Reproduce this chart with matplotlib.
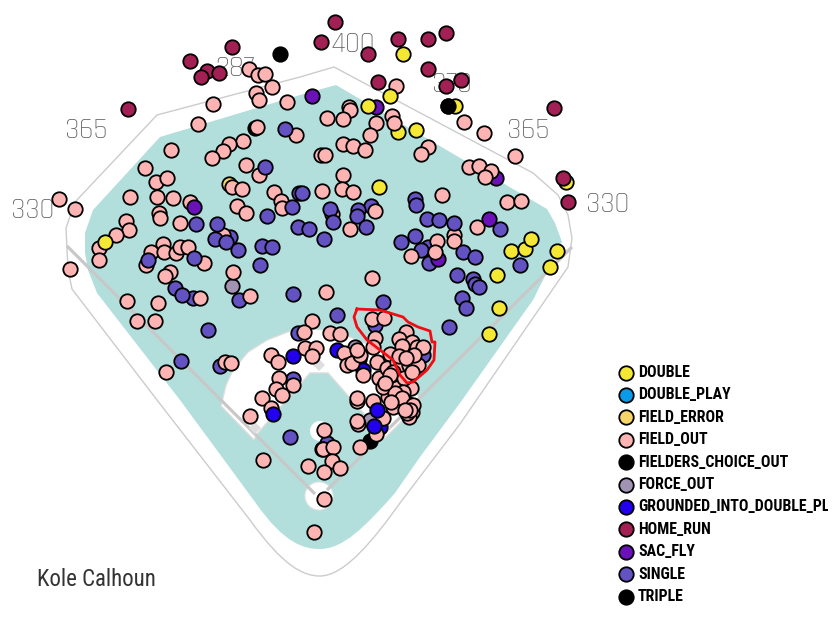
#!/usr/bin/env python3
import matplotlib
matplotlib.use("Agg")
import matplotlib.pyplot as plt
from matplotlib.patches import Circle, PathPatch, Polygon, Rectangle
from matplotlib.path import Path

home_run = [(232, 47), (190, 61), (207, 71), (201, 77), (219, 73), (128, 109), (335, 22), (321, 42), (368, 54),
            (398, 39), (428, 39), (446, 33), (428, 69), (378, 82), (461, 80), (446, 86), (554, 108), (563, 178),
            (568, 202)]
double = [(105, 242), (403, 54), (390, 96), (368, 106), (398, 132), (416, 130), (455, 106), (379, 187), (566, 182),
          (497, 275), (511, 251), (525, 249), (531, 239), (557, 251), (550, 267), (489, 334), (499, 308)]
field_error = [(229, 184)]
triple = [(280, 54)]
fielders_choice = [(448, 106), (370, 441), (255, 128), (322, 449)]
sac_fly = [(194, 207), (312, 96), (376, 107), (496, 178), (489, 219), (438, 259)]
force_out = [(232, 286), (355, 347), (370, 420)]
gidp = [(293, 356), (337, 350), (359, 359), (363, 370), (273, 414), (377, 410), (374, 426), (380, 427)]
single_back = [(239, 300), (193, 298), (220, 366), (298, 333), (375, 325), (371, 206), (428, 247), (429, 263),
               (415, 236), (421, 250), (293, 379), (327, 443), (423, 355), (230, 237)]
single = [(285, 129), (265, 167), (299, 193), (292, 207), (267, 216), (298, 227), (196, 224), (217, 224), (215, 239),
          (226, 242), (238, 250), (262, 246), (272, 247), (260, 265), (148, 260), (194, 258), (175, 288), (182, 295),
          (293, 294), (302, 193), (330, 209), (333, 222), (309, 229), (324, 239), (358, 210), (357, 216), (366, 227),
          (415, 199), (416, 205), (427, 219), (439, 220), (454, 223), (500, 229), (401, 242), (463, 252), (475, 257),
          (520, 265), (457, 275), (473, 279), (475, 284), (479, 287), (462, 298), (383, 302), (466, 308), (449, 327),
          (337, 315), (208, 330), (181, 361), (290, 437)]
field_out = [(249, 69), (258, 75), (265, 74), (272, 87), (256, 93), (259, 100), (287, 102), (213, 104), (198, 124),
             (257, 127), (296, 135), (243, 141), (229, 144), (223, 151), (212, 158), (171, 150), (246, 165), (259, 175),
             (145, 168), (156, 182), (167, 178), (232, 187), (242, 189), (274, 192), (281, 201), (282, 208), (130, 197),
             (157, 197), (173, 198), (190, 202), (237, 206), (246, 213), (59, 199), (75, 209), (126, 221), (129, 230),
             (116, 235), (99, 248), (99, 260), (159, 213), (160, 218), (180, 223), (223, 235), (163, 244), (151, 252),
             (164, 252), (176, 253), (180, 247), (188, 247), (146, 265), (204, 263), (70, 269), (233, 272), (170, 272),
             (165, 276), (200, 298), (250, 296), (127, 301), (158, 303), (137, 321), (155, 321), (166, 372), (225, 362),
             (231, 363), (396, 86), (349, 107), (350, 110), (327, 118), (343, 119), (376, 123), (392, 116), (394, 123),
             (370, 135), (464, 122), (484, 133), (515, 156), (428, 147), (421, 154), (343, 144), (353, 146), (365, 150),
             (321, 155), (325, 155), (469, 167), (479, 166), (491, 171), (485, 177), (343, 175), (342, 189), (353, 192),
             (322, 191), (442, 195), (507, 202), (521, 201), (375, 211), (332, 214), (350, 229), (477, 227), (454, 235),
             (454, 241), (437, 241), (435, 252), (411, 256), (372, 278), (326, 292), (312, 321), (304, 332), (330, 333),
             (340, 334), (372, 319), (384, 318), (375, 338), (406, 332), (399, 339), (271, 355), (278, 362), (305, 348),
             (316, 348), (312, 356), (279, 378), (276, 389), (282, 395), (293, 385), (262, 398), (271, 408), (250, 416),
             (263, 460), (344, 353), (347, 365), (352, 363), (360, 355), (357, 350), (377, 362), (363, 375), (379, 378),
             (390, 354), (373, 347), (396, 381), (387, 368), (397, 362), (401, 368), (408, 352), (412, 342), (417, 347),
             (423, 347), (409, 365), (418, 365), (411, 388), (388, 390), (388, 397), (397, 400), (407, 403), (400, 405),
             (393, 407), (410, 405), (412, 412), (409, 417), (407, 413), (357, 401), (373, 401), (357, 398), (358, 424),
             (357, 421), (383, 418), (376, 434), (360, 447), (324, 430), (323, 449), (333, 447), (332, 461), (340, 468),
             (324, 472), (308, 466), (324, 499), (314, 532), (383, 387), (397, 388), (402, 346), (399, 356), (393, 372),
             (404, 378), (403, 392), (395, 393), (402, 398), (391, 402), (413, 405), (410, 410), (405, 410), (390, 375),
             (385, 383), (414, 355), (406, 358), (412, 372)]

legend_labels = ["DOUBLE", "DOUBLE_PLAY", "FIELD_ERROR", "FIELD_OUT", "FIELDERS_CHOICE_OUT", "FORCE_OUT",
                 "GROUNDED_INTO_DOUBLE_PLAY", "HOME_RUN", "SAC_FLY", "SINGLE", "TRIPLE"]
legend_colors = ["#f5e834", "#0a9be8", "#f8d568", "#ffb4b4", "#000000", "#a393b3", "#2200ee", "#a32054", "#6a12b8",
                 "#6352c2", "#000000"]
color_of = dict(zip(legend_labels, legend_colors))

distance_labels = ["330", "365", "287", "400", "370", "365", "330"]
distance_xy = [(33, 209), (86, 130), (235, 67), (353, 43), (452, 84), (528, 130), (608, 204)]

# field outlines, the round part behind home plate is a pair of beziers
wall_top = [(157, 400), (72, 289), (68, 270), (66, 228), (75, 202), (157, 115), (300, 77), (334, 67), (533, 173),
            (558, 195), (568, 215), (572, 238), (568, 267), (460, 424), (400, 503)]
wall_curve = [(375, 538), (345, 576), (320, 576), (303, 576), (283, 566), (250, 520)]
grass_top = [(180, 400), (97, 293), (88, 270), (85, 253), (85, 233), (93, 210), (160, 137), (300, 95), (336, 85),
             (547, 209), (555, 223), (562, 242), (533, 300), (460, 403), (420, 457), (395, 493)]
grass_curve = [(365, 527), (343, 549), (320, 549), (305, 549), (285, 545), (255, 502)]
dirt = [(221, 406), (226, 385), (233, 370), (248, 352), (267, 340), (290, 331), (313, 329), (335, 331), (350, 337),
        (370, 345), (395, 360), (410, 378), (421, 402), (385, 438), (380, 432), (328, 373), (310, 373), (258, 433),
        (254, 440)]
contour = [(357, 309), (380, 310), (403, 317), (408, 322), (418, 327), (430, 331), (432, 342), (435, 342), (434, 360),
           (427, 370), (413, 382), (407, 383), (400, 375), (393, 360), (380, 350), (367, 340), (357, 327), (354, 317),
           (357, 309)]

NARROW = ["Roboto Condensed", "Barlow Condensed", "DejaVu Sans"]
THIN = ["Rajdhani", "Roboto", "DejaVu Sans"]


def rounded_bottom(top, curve):
    verts = list(top) + list(curve) + [top[0]]
    codes = [Path.MOVETO] + [Path.LINETO] * (len(top) - 1) + [Path.CURVE4] * len(curve) + [Path.LINETO]
    return Path(verts, codes)


def draw_points(ax, points, color, z):
    xs = [p[0] for p in points]
    ys = [p[1] for p in points]
    ax.scatter(xs, ys, s=108, c=color, edgecolors="black", linewidths=1.3, zorder=z)


def main():
    fig = plt.figure(figsize=(8.37, 6.23), dpi=100)
    ax = fig.add_axes([0, 0, 1, 1])
    ax.set_xlim(0, 837)
    ax.set_ylim(623, 0)
    ax.axis("off")

    ax.add_patch(PathPatch(rounded_bottom(wall_top, wall_curve), fc="white", ec="#cccccc", lw=1.0, zorder=1))
    ax.add_patch(PathPatch(rounded_bottom(grass_top, grass_curve), fc="#b2dfdb", ec="none", zorder=2))
    ax.add_patch(Polygon(dirt, closed=True, fc="white", ec="#dcdcdc", lw=1, zorder=3))
    ax.add_patch(Circle((319, 496), 14, fc="white", ec="#e4e4e4", lw=0.8, zorder=3))
    ax.add_patch(Circle((320, 431), 10, fc="white", ec="none", zorder=3))
    ax.plot([67, 315], [246, 494], color="#c8c8c8", lw=2.3, zorder=4, solid_capstyle="butt")
    ax.plot([572, 327], [247, 490], color="#c8c8c8", lw=2.3, zorder=4, solid_capstyle="butt")
    for bx, by in [(319, 365), (255, 428), (385, 428)]:
        ax.add_patch(Polygon([(bx - 6, by), (bx, by - 6), (bx + 6, by), (bx, by + 6)], closed=True,
                             fc="#dedede", ec="none", zorder=4))

    for label, (x, y) in zip(distance_labels, distance_xy):
        ax.text(x, y, label, ha="center", va="center", fontsize=21, color="#666666",
                family=THIN, fontweight="light", zorder=5)

    draw_points(ax, single_back, color_of["SINGLE"], 6)
    draw_points(ax, fielders_choice, color_of["FIELDERS_CHOICE_OUT"], 6)
    draw_points(ax, force_out, color_of["FORCE_OUT"], 6)
    draw_points(ax, field_error, color_of["FIELD_ERROR"], 6)
    draw_points(ax, [p for p in double if p[0] in (398, 455, 566)], color_of["DOUBLE"], 6)
    draw_points(ax, [p for p in sac_fly if p[0] in (376, 438, 496)], color_of["SAC_FLY"], 6)
    draw_points(ax, gidp[:4] + gidp[7:], color_of["GROUNDED_INTO_DOUBLE_PLAY"], 6)
    draw_points(ax, [(448, 106)], color_of["FIELDERS_CHOICE_OUT"], 7)
    draw_points(ax, triple, color_of["TRIPLE"], 7)
    draw_points(ax, home_run, color_of["HOME_RUN"], 7)
    draw_points(ax, field_out, color_of["FIELD_OUT"], 7)
    draw_points(ax, single, color_of["SINGLE"], 8)
    draw_points(ax, [p for p in double if p[0] not in (398, 455, 566)], color_of["DOUBLE"], 8)
    draw_points(ax, [p for p in sac_fly if p[0] not in (376, 438, 496)], color_of["SAC_FLY"], 8)
    draw_points(ax, gidp[4:7], color_of["GROUNDED_INTO_DOUBLE_PLAY"], 8)

    cx = [p[0] for p in contour]
    cy = [p[1] for p in contour]
    ax.plot(cx, cy, color="#f20d14", lw=2.0, zorder=9)

    clip = Rectangle((0, 0), 828, 623, transform=ax.transData)
    for i, (label, color) in enumerate(zip(legend_labels, legend_colors)):
        y = 372.5 + i * 22.4
        ax.scatter([626], [y], s=108, c=color, edgecolors="black", linewidths=1.3, zorder=9)
        t = ax.text(638, y, label, ha="left", va="center", fontsize=11.4, fontweight="bold", color="black",
                    family=NARROW, zorder=9, clip_on=True)
        t.set_clip_path(clip)

    ax.text(37, 580, "Kole Calhoun", ha="left", va="center", fontsize=16.5, color="#333333", family=NARROW)

    fig.savefig("out.png", dpi=100)


if __name__ == "__main__":
    main()
